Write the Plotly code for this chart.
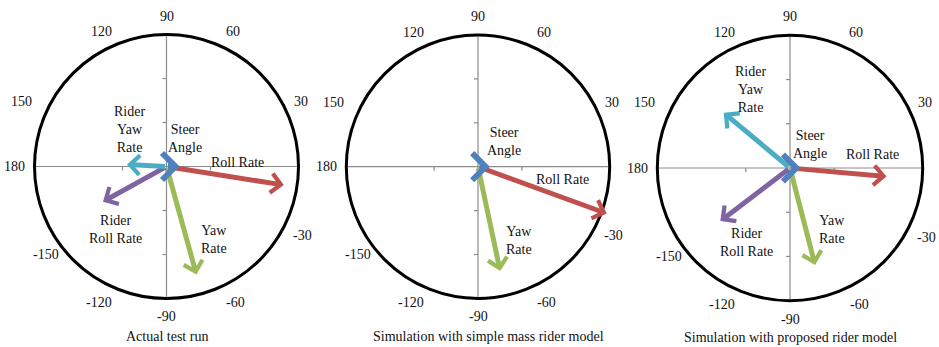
import numpy as np
import plotly.graph_objects as go

# ---------------- data ----------------
PANEL_TITLES = ["Actual test run",
                "Simulation with simple mass rider model",
                "Simulation with proposed rider model"]
SERIES = ["Roll Rate", "Yaw Rate", "Rider Roll Rate", "Rider Yaw Rate", "Steer Angle"]
SERIES_LABELS = ["Roll Rate", "Yaw<br>Rate", "Rider<br>Roll Rate", "Rider<br>Yaw<br>Rate", "Steer<br>Angle"]

# normalised magnitude and phase angle (deg) for each series, per panel
MAG_ACTUAL = [0.90, 0.85, 0.55, 0.30, 0.10]
PHASE_ACTUAL = [-9.0, -74.5, -151.0, 177.0, 0.0]
MAG_SIMPLE = [1.04, 0.81, None, None, 0.09]
PHASE_SIMPLE = [-20.0, -78.0, None, None, 0.0]
MAG_PROPOSED = [0.73, 0.755, 0.66, 0.65, 0.08]
PHASE_PROPOSED = [-5.0, -75.5, -142.7, 140.2, 0.0]

ANGLE_TICKS = ["90", "60", "30", "-30", "-60", "-90", "-120", "-150", "180", "150", "120"]

MAGS = [MAG_ACTUAL, MAG_SIMPLE, MAG_PROPOSED]
PHASES = [PHASE_ACTUAL, PHASE_SIMPLE, PHASE_PROPOSED]

# ---------------- styling / layout ----------------
W, H = 939, 347
COLORS = {"Roll Rate": "#C0504D", "Yaw Rate": "#9BBB59", "Rider Roll Rate": "#8064A2",
          "Rider Yaw Rate": "#4BACC6", "Steer Angle": "#4F81BD"}
DRAW_ORDER = ["Roll Rate", "Yaw Rate", "Rider Roll Rate", "Rider Yaw Rate", "Steer Angle"]
FONT = "Liberation Serif, Times New Roman, serif"
TXT = "#111111"
AXC = "#8c8c8c"

# panel centre (px from top-left), radius px, x-domain px
PANELS = [dict(cx=166.5, cy=166.5, r=132.0, x0=0, x1=313),
          dict(cx=478.0, cy=166.7, r=131.7, x0=313, x1=626),
          dict(cx=790.0, cy=168.0, r=132.7, x0=626, x1=939)]

# label placement (in radius units) for each series per panel
LABEL_POS = [
    {"Rider Yaw Rate": (-0.28, 0.28), "Steer Angle": (0.14, 0.21), "Roll Rate": (0.54, 0.03),
     "Rider Roll Rate": (-0.39, -0.48), "Yaw Rate": (0.36, -0.55)},
    {"Steer Angle": (0.20, 0.19), "Roll Rate": (0.64, -0.10), "Yaw Rate": (0.31, -0.56)},
    {"Rider Yaw Rate": (-0.30, 0.59), "Steer Angle": (0.15, 0.18), "Roll Rate": (0.62, 0.10),
     "Rider Roll Rate": (-0.33, -0.56), "Yaw Rate": (0.32, -0.46)},
]
TICK_POS = {"90": (0, 1.14), "60": (0.5, 1.02), "30": (1.02, 0.49), "-30": (1.03, -0.52),
            "-60": (0.52, -1.03), "-90": (0, -1.14), "-120": (-0.51, -1.03),
            "-150": (-0.91, -0.67), "180": (-1.15, 0), "150": (-1.10, 0.49), "120": (-0.49, 1.02)}
TITLE_POS = [(0.0, -1.29), (0.076, -1.29), (0.0, -1.28)]

fig = go.Figure()
shapes = []
annotations = []
layout_axes = {}

for i, p in enumerate(PANELS):
    sx = "" if i == 0 else str(i + 1)
    xa, ya = "x" + sx, "y" + sx
    r = p["r"]
    layout_axes["xaxis" + sx] = dict(domain=[p["x0"] / W, p["x1"] / W],
                                     range=[(p["x0"] - p["cx"]) / r, (p["x1"] - p["cx"]) / r],
                                     visible=False, fixedrange=True, anchor=ya)
    layout_axes["yaxis" + sx] = dict(domain=[0, 1], range=[-(H - p["cy"]) / r, p["cy"] / r],
                                     visible=False, fixedrange=True, anchor=xa)
    # invisible trace so the subplot exists
    fig.add_trace(go.Scatter(x=[0], y=[0], xaxis=xa, yaxis=ya, mode="markers",
                             marker=dict(opacity=0), showlegend=False, hoverinfo="skip"))
    # axes lines
    shapes.append(dict(type="line", xref=xa, yref=ya, x0=-1, x1=1, y0=0, y1=0,
                       line=dict(color=AXC, width=1.2), layer="below"))
    shapes.append(dict(type="line", xref=xa, yref=ya, x0=0, x1=0, y0=-1, y1=1,
                       line=dict(color=AXC, width=1.2), layer="below"))
    tl = 4.0 / r
    for t in (-1 / 3, 1 / 3):
        shapes.append(dict(type="line", xref=xa, yref=ya, x0=t, x1=t, y0=0, y1=-tl,
                           line=dict(color=AXC, width=1.2), layer="below"))
    for t in (-2 / 3, -1 / 3, 1 / 3, 2 / 3):
        shapes.append(dict(type="line", xref=xa, yref=ya, x0=-tl, x1=0, y0=t, y1=t,
                           line=dict(color=AXC, width=1.2), layer="below"))
    # circle
    shapes.append(dict(type="circle", xref=xa, yref=ya, x0=-1, x1=1, y0=-1, y1=1,
                       line=dict(color="black", width=3)))
    # angle labels
    for lab in ANGLE_TICKS:
        tx, ty = TICK_POS[lab]
        annotations.append(dict(xref=xa, yref=ya, x=tx, y=ty, text=lab, showarrow=False,
                                font=dict(family=FONT, size=14, color=TXT)))
    # vectors
    mags, phs = MAGS[i], PHASES[i]
    for name in DRAW_ORDER:
        k = SERIES.index(name)
        if mags[k] is None:
            continue
        ang = np.deg2rad(phs[k])
        hx, hy = mags[k] * np.cos(ang), mags[k] * np.sin(ang)
        big = name == "Steer Angle"
        annotations.append(dict(xref=xa, yref=ya, axref=xa, ayref=ya, x=hx, y=hy, ax=0, ay=0,
                                text="", showarrow=True, arrowhead=4,
                                arrowsize=0.8 if big else 0.75,
                                arrowwidth=6.5 if big else 5, arrowcolor=COLORS[name]))
    for name, (lx, ly) in LABEL_POS[i].items():
        k = SERIES.index(name)
        annotations.append(dict(xref=xa, yref=ya, x=lx, y=ly, text=SERIES_LABELS[k],
                                showarrow=False, align="center",
                                font=dict(family=FONT, size=14, color=TXT)))
    tx, ty = TITLE_POS[i]
    annotations.append(dict(xref=xa, yref=ya, x=tx, y=ty, text=PANEL_TITLES[i], showarrow=False,
                            font=dict(family=FONT, size=14, color=TXT)))

fig.update_layout(width=W, height=H, margin=dict(l=0, r=0, t=0, b=0),
                  paper_bgcolor="white", plot_bgcolor="white",
                  shapes=shapes, annotations=annotations, showlegend=False, **layout_axes)

fig.write_html("out.html")
